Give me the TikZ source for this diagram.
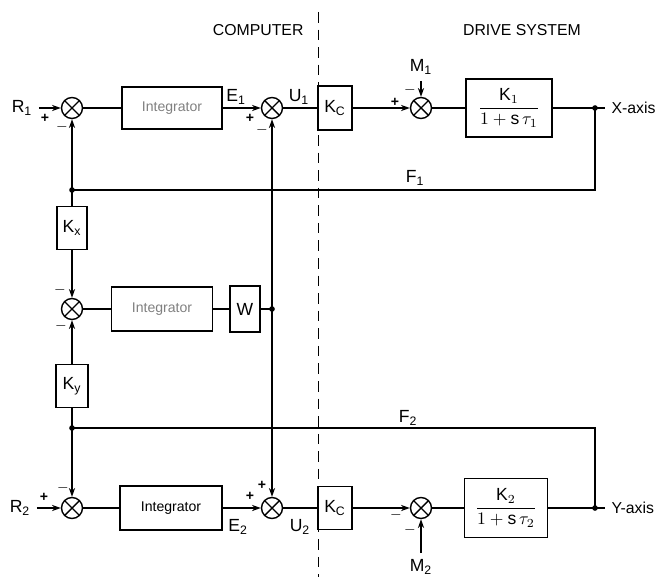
\documentclass[tikz,border=0pt]{standalone}
\usepackage{amsmath}
\usepackage{fontspec}
\setmainfont{Liberation Sans}
\usetikzlibrary{arrows.meta}

\begin{document}
\begin{tikzpicture}[>={Stealth[length=5pt,width=3.5pt]}, thick,
    sumj/.style={draw, circle, minimum size=0.42cm, inner sep=0pt,
        path picture={\draw[thick] (path picture bounding box.south west) -- (path picture bounding box.north east)
            (path picture bounding box.north west) -- (path picture bounding box.south east);}},
    blk/.style={draw, thick, inner sep=1pt},
    sgn/.style={font=\footnotesize\bfseries, inner sep=0pt}]
    \useasboundingbox (0,0) rectangle (13.4,11.54);

    % Headings and divider
    \node[anchor=east, font=\small] (hcomp) at (6.2,10.94) {COMPUTER};
    \node[font=\small] (hdrive) at (10.44,10.94) {DRIVE SYSTEM};
    \draw[thin, dashed, dash pattern=on 6pt off 4pt] (6.36,11.3) -- (6.36,0);

    % X loop (top row)
    \node (R1) at (0.44,9.38) {R\textsubscript{1}};
    \node[sumj] (s1) at (1.44,9.38) {};
    \node[blk, minimum width=2cm, minimum height=0.84cm, text=gray] (int1) at (3.44,9.38) {\footnotesize Integrator};
    \node[sumj] (s2) at (5.44,9.38) {};
    \node[blk, minimum width=0.68cm, minimum height=0.88cm] (kc1) at (6.7,9.38) {K\textsubscript{C}};
    \node[sumj] (s3) at (8.42,9.38) {};
    \node[blk, minimum width=1.72cm, minimum height=1.16cm] (g1) at (10.18,9.38)
        {$\dfrac{\mathrm{K}_1}{1+\mathrm{s}\,\tau_1}$};
    \coordinate (xo) at (11.9,9.38);
    \node[anchor=west, font=\small] (xax) at (12.1,9.38) {X-axis};
    \node (M1) at (8.42,10.2) {M\textsubscript{1}};
    \node (E1) at (4.72,9.6) {E\textsubscript{1}};
    \node (U1) at (5.98,9.6) {U\textsubscript{1}};

    \draw[->] (R1) -- (s1);
    \draw (s1) -- (int1);
    \draw[->] (int1) -- (s2);
    \draw (s2) -- (kc1);
    \draw[->] (kc1) -- (s3);
    \draw[->] (M1) -- (s3);
    \draw (s3) -- (g1);
    \draw (g1) -- (xax);

    % F1 feedback
    \coordinate (j1) at (1.44,7.74);
    \draw (xo) |- (j1);
    \node (F1) at (8.3,7.98) {F\textsubscript{1}};
    \draw[->] (j1) -- (s1);
    \fill (j1) circle (1.6pt);
    \fill (xo) circle (1.6pt);

    % cross coupling (middle)
    \node[blk, minimum width=0.6cm, minimum height=0.86cm] (kx) at (1.44,6.98) {K\textsubscript{x}};
    \node[sumj] (s4) at (1.44,5.36) {};
    \node[blk, minimum width=2.02cm, minimum height=0.88cm, text=gray] (int2) at (3.24,5.36) {\footnotesize Integrator};
    \node[blk, minimum width=0.6cm, minimum height=0.92cm] (w) at (4.9,5.36) {W};
    \coordinate (j2) at (5.44,5.36);
    \node[blk, minimum width=0.64cm, minimum height=0.86cm] (ky) at (1.44,3.82) {K\textsubscript{y}};
    \coordinate (j3) at (1.44,2.98);

    \draw (j1) -- (kx);
    \draw[->] (kx) -- (s4);
    \draw[->] (ky) -- (s4);
    \draw (s4) -- (int2);
    \draw (int2) -- (w);
    \draw (w) -- (j2);
    \draw[->] (j2) -- (s2);
    \fill (j2) circle (1.6pt);
    \draw (j3) -- (ky);

    % Y loop (bottom row)
    \node (R2) at (0.4,1.38) {R\textsubscript{2}};
    \node[sumj] (s5) at (1.44,1.38) {};
    \node[blk, minimum width=2.04cm, minimum height=0.88cm] (int3) at (3.42,1.38) {\footnotesize Integrator};
    \node[sumj] (s6) at (5.44,1.38) {};
    \node[blk, minimum width=0.68cm, minimum height=0.86cm] (kc2) at (6.7,1.38) {K\textsubscript{C}};
    \node[sumj] (s7) at (8.42,1.38) {};
    \node[blk, minimum width=1.66cm, minimum height=1.18cm] (g2) at (10.12,1.38)
        {$\dfrac{\mathrm{K}_2}{1+\mathrm{s}\,\tau_2}$};
    \coordinate (yo) at (11.9,1.38);
    \node[anchor=west, font=\small] (yax) at (12.1,1.38) {Y-axis};
    \node (M2) at (8.42,0.2) {M\textsubscript{2}};
    \node (E2) at (4.76,1.0) {E\textsubscript{2}};
    \node (U2) at (6.0,1.0) {U\textsubscript{2}};

    \draw[->] (R2) -- (s5);
    \draw (s5) -- (int3);
    \draw[->] (int3) -- (s6);
    \draw (s6) -- (kc2);
    \draw[->] (kc2) -- (s7);
    \draw[->] (M2) -- (s7);
    \draw (s7) -- (g2);
    \draw (g2) -- (yax);
    \draw[->] (j2) -- (s6);

    % F2 feedback
    \draw (yo) |- (j3);
    \node (F2) at (8.16,3.18) {F\textsubscript{2}};
    \draw[->] (j3) -- (s5);
    \fill (j3) circle (1.6pt);
    \fill (yo) circle (1.6pt);

    % signs
    \node[sgn] at ([xshift=-0.54cm,yshift=-0.2cm]s1) {+};
    \node[sgn] at ([xshift=-0.2cm,yshift=-0.38cm]s1) {$-$};
    \node[sgn] at ([xshift=-0.44cm,yshift=-0.2cm]s2) {+};
    \node[sgn] at ([xshift=-0.2cm,yshift=-0.44cm]s2) {$-$};
    \node[sgn] at ([xshift=-0.52cm,yshift=0.12cm]s3) {+};
    \node[sgn] at ([xshift=-0.22cm,yshift=0.36cm]s3) {$-$};
    \node[sgn] at ([xshift=-0.24cm,yshift=0.38cm]s4) {$-$};
    \node[sgn] at ([xshift=-0.22cm,yshift=-0.34cm]s4) {$-$};
    \node[sgn] at ([xshift=-0.56cm,yshift=0.22cm]s5) {+};
    \node[sgn] at ([xshift=-0.18cm,yshift=0.4cm]s5) {$-$};
    \node[sgn] at ([xshift=-0.44cm,yshift=0.24cm]s6) {+};
    \node[sgn] at ([xshift=-0.2cm,yshift=0.46cm]s6) {+};
    \node[sgn] at ([xshift=-0.5cm,yshift=-0.14cm]s7) {$-$};
    \node[sgn] at ([xshift=-0.22cm,yshift=-0.44cm]s7) {$-$};
\end{tikzpicture}
\end{document}
